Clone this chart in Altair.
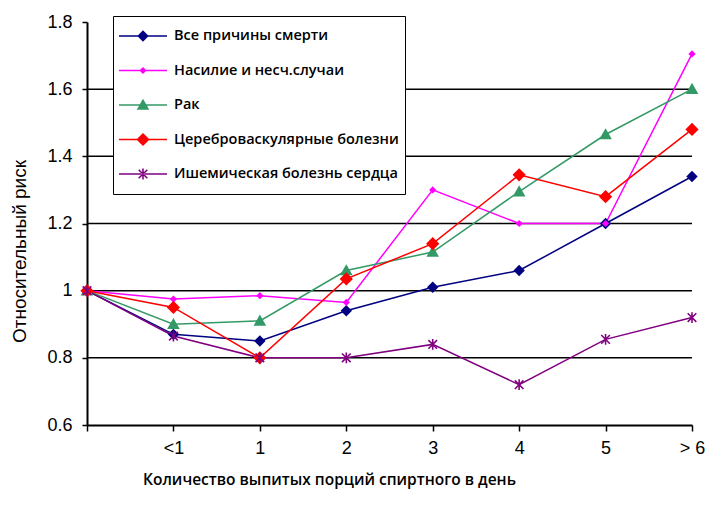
import math
import altair as alt
import pandas as pd

# ---------------- data ----------------
categories = ["0", "<1", "1", "2", "3", "4", "5", "> 6"]
series = [
    "Все причины смерти",
    "Насилие и несч.случаи",
    "Рак",
    "Цереброваскулярные болезни",
    "Ишемическая болезнь сердца",
]
all_causes = [1.00, 0.87, 0.85, 0.94, 1.01, 1.06, 1.20, 1.34]
violence = [1.00, 0.975, 0.985, 0.965, 1.30, 1.20, 1.20, 1.705]
cancer = [1.00, 0.90, 0.91, 1.06, 1.115, 1.295, 1.465, 1.60]
cerebro = [1.00, 0.95, 0.80, 1.035, 1.14, 1.345, 1.28, 1.48]
ischemic = [1.00, 0.865, 0.80, 0.80, 0.84, 0.72, 0.855, 0.92]
y_ticks = [0.6, 0.8, 1.0, 1.2, 1.4, 1.6, 1.8]
grid_values = [0.8, 1.0, 1.2, 1.4, 1.6]

x_title = "Количество выпитых порций спиртного в день"
y_title = "Относительный риск"

# ---------------- styles ----------------
colors = ["#000080", "#FF00FF", "#339966", "#FF0000", "#800080"]


def bar(p1, p2, t):
    (x1, y1), (x2, y2) = p1, p2
    L = math.hypot(x2 - x1, y2 - y1)
    nx, ny = -(y2 - y1) / L * t, (x2 - x1) / L * t
    return [(x1 + nx, y1 + ny), (x2 + nx, y2 + ny), (x2 - nx, y2 - ny), (x1 - nx, y1 - ny)]


# marker geometry in unit coordinates (1 unit = 6 px), filled polygons
markers = [
    [[(0, -0.95), (0.95, 0), (0, 0.95), (-0.95, 0)]],
    [[(0, -0.6), (0.6, 0), (0, 0.6), (-0.6, 0)]],
    [[(0, -1.05), (1.05, 0.8), (-1.05, 0.8)]],
    [[(0, -1.1), (1.1, 0), (0, 1.1), (-1.1, 0)]],
    [bar((-0.72, -0.72), (0.72, 0.72), 0.13), bar((-0.72, 0.72), (0.72, -0.72), 0.13),
     bar((0, -0.9), (0, 0.9), 0.13)],
]


def path_of(polys, scale):
    out = ""
    for poly in polys:
        pts = [f"{px * scale:.3f},{py * scale:.3f}" for px, py in poly]
        out += "M" + "L".join(pts) + "Z"
    return out


point_paths = [path_of(m, 1.0) for m in markers]
# legend symbol (r = 24 px): thin horizontal bar + marker at the same pixel size
legend_paths = ["M-1,-0.032L1,-0.032L1,0.032L-1,0.032Z" + path_of(m, 0.25) for m in markers]

# ---------------- table ----------------
rows = []
for name, vals in zip(series, [all_causes, violence, cancer, cerebro, ischemic]):
    for c, v in zip(categories, vals):
        rows.append({"series": name, "cat": c, "value": v})
df = pd.DataFrame(rows)
grid_df = pd.DataFrame({"value": grid_values})

x_enc = alt.X(
    "cat:O",
    sort=categories,
    scale=alt.Scale(type="point", domain=categories, padding=0),
    axis=alt.Axis(
        title=x_title,
        labelAngle=0,
        labelExpr="datum.value == '0' ? '' : datum.value",
        labelFont="Liberation Sans",
        labelFontSize=18,
        labelColor="black",
        labelPadding=8,
        tickSize=6,
        tickColor="black",
        tickWidth=1.5,
        domainColor="black",
        domainWidth=2,
        grid=False,
        titleFont="Open Sans",
        titleFontSize=15.5,
        titleFontWeight=600,
        titleColor="black",
        titleX=242,
        titleY=59,
        titleAlign="center",
        titleBaseline="alphabetic",
        titleAnchor="start",
    ),
)

y_axis = alt.Axis(
    title=y_title,
    values=y_ticks,
    format="~g",
    labelFont="Liberation Sans",
    labelFontSize=18,
    labelColor="black",
    labelPadding=10,
    tickSize=5,
    tickColor="black",
    tickWidth=1.5,
    domainColor="black",
    domainWidth=2,
    grid=False,
    titleFont="Liberation Sans",
    titleFontSize=19,
    titleFontWeight="normal",
    titleColor="black",
    titleX=-68,
    titleY=229,
    titleAngle=-90,
    titleAlign="center",
    titleBaseline="middle",
    titleAnchor="start",
)
y_scale = alt.Scale(domain=[0.6, 1.8], nice=False, zero=False)

grid = alt.Chart(grid_df).mark_rule(color="black", strokeWidth=1.5).encode(
    y=alt.Y("value:Q", scale=y_scale, axis=y_axis)
)

lines = alt.Chart(df).mark_line(strokeWidth=1.5).encode(
    x=x_enc,
    y=alt.Y("value:Q", scale=y_scale, axis=y_axis),
    stroke=alt.Stroke("series:N", sort=series, scale=alt.Scale(range=colors), legend=None),
    detail="series:N",
)

point_layers = []
for name, col, p in zip(series, colors, point_paths):
    point_layers.append(
        alt.Chart(df)
        .transform_filter(alt.datum.series == name)
        .mark_point(filled=True, size=144, shape=p, color=col, opacity=1, strokeWidth=0)
        .encode(x=alt.X("cat:O", sort=categories), y=alt.Y("value:Q"))
    )

legend_props = dict(
    title=None,
    orient="none",
    legendX=26,
    legendY=-6,
    fillColor="white",
    strokeColor="black",
    padding=6,
    rowPadding=6.5,
    clipHeight=28,
    symbolSize=2304,
    symbolStrokeWidth=0,
    symbolOffset=0,
    labelOffset=7,
    labelFont="Open Sans",
    labelFontSize=14.5,
    labelFontWeight=600,
    labelColor="black",
    labelLimit=400,
    labelBaseline="middle",
)

legend_layer = (
    alt.Chart(df)
    .transform_filter("false")
    .mark_point(filled=True, opacity=1, strokeWidth=0)
    .encode(
        x=alt.X("cat:O", sort=categories),
        y=alt.Y("value:Q"),
        color=alt.Color(
            "series:N",
            scale=alt.Scale(domain=series, range=colors),
            legend=alt.Legend(**legend_props),
        ),
        shape=alt.Shape(
            "series:N",
            scale=alt.Scale(domain=series, range=legend_paths),
            legend=alt.Legend(**legend_props),
        ),
    )
)

chart = (
    alt.layer(grid, lines, *point_layers, legend_layer)
    .properties(
        width=605,
        height=403,
        autosize=alt.AutoSizeParams(type="none"),
        padding={"left": 79, "top": 14, "right": 20, "bottom": 72},
        background="white",
    )
    .configure_view(stroke=None)
)

chart.save("out.html", embed_options={"renderer": "svg", "actions": False})
